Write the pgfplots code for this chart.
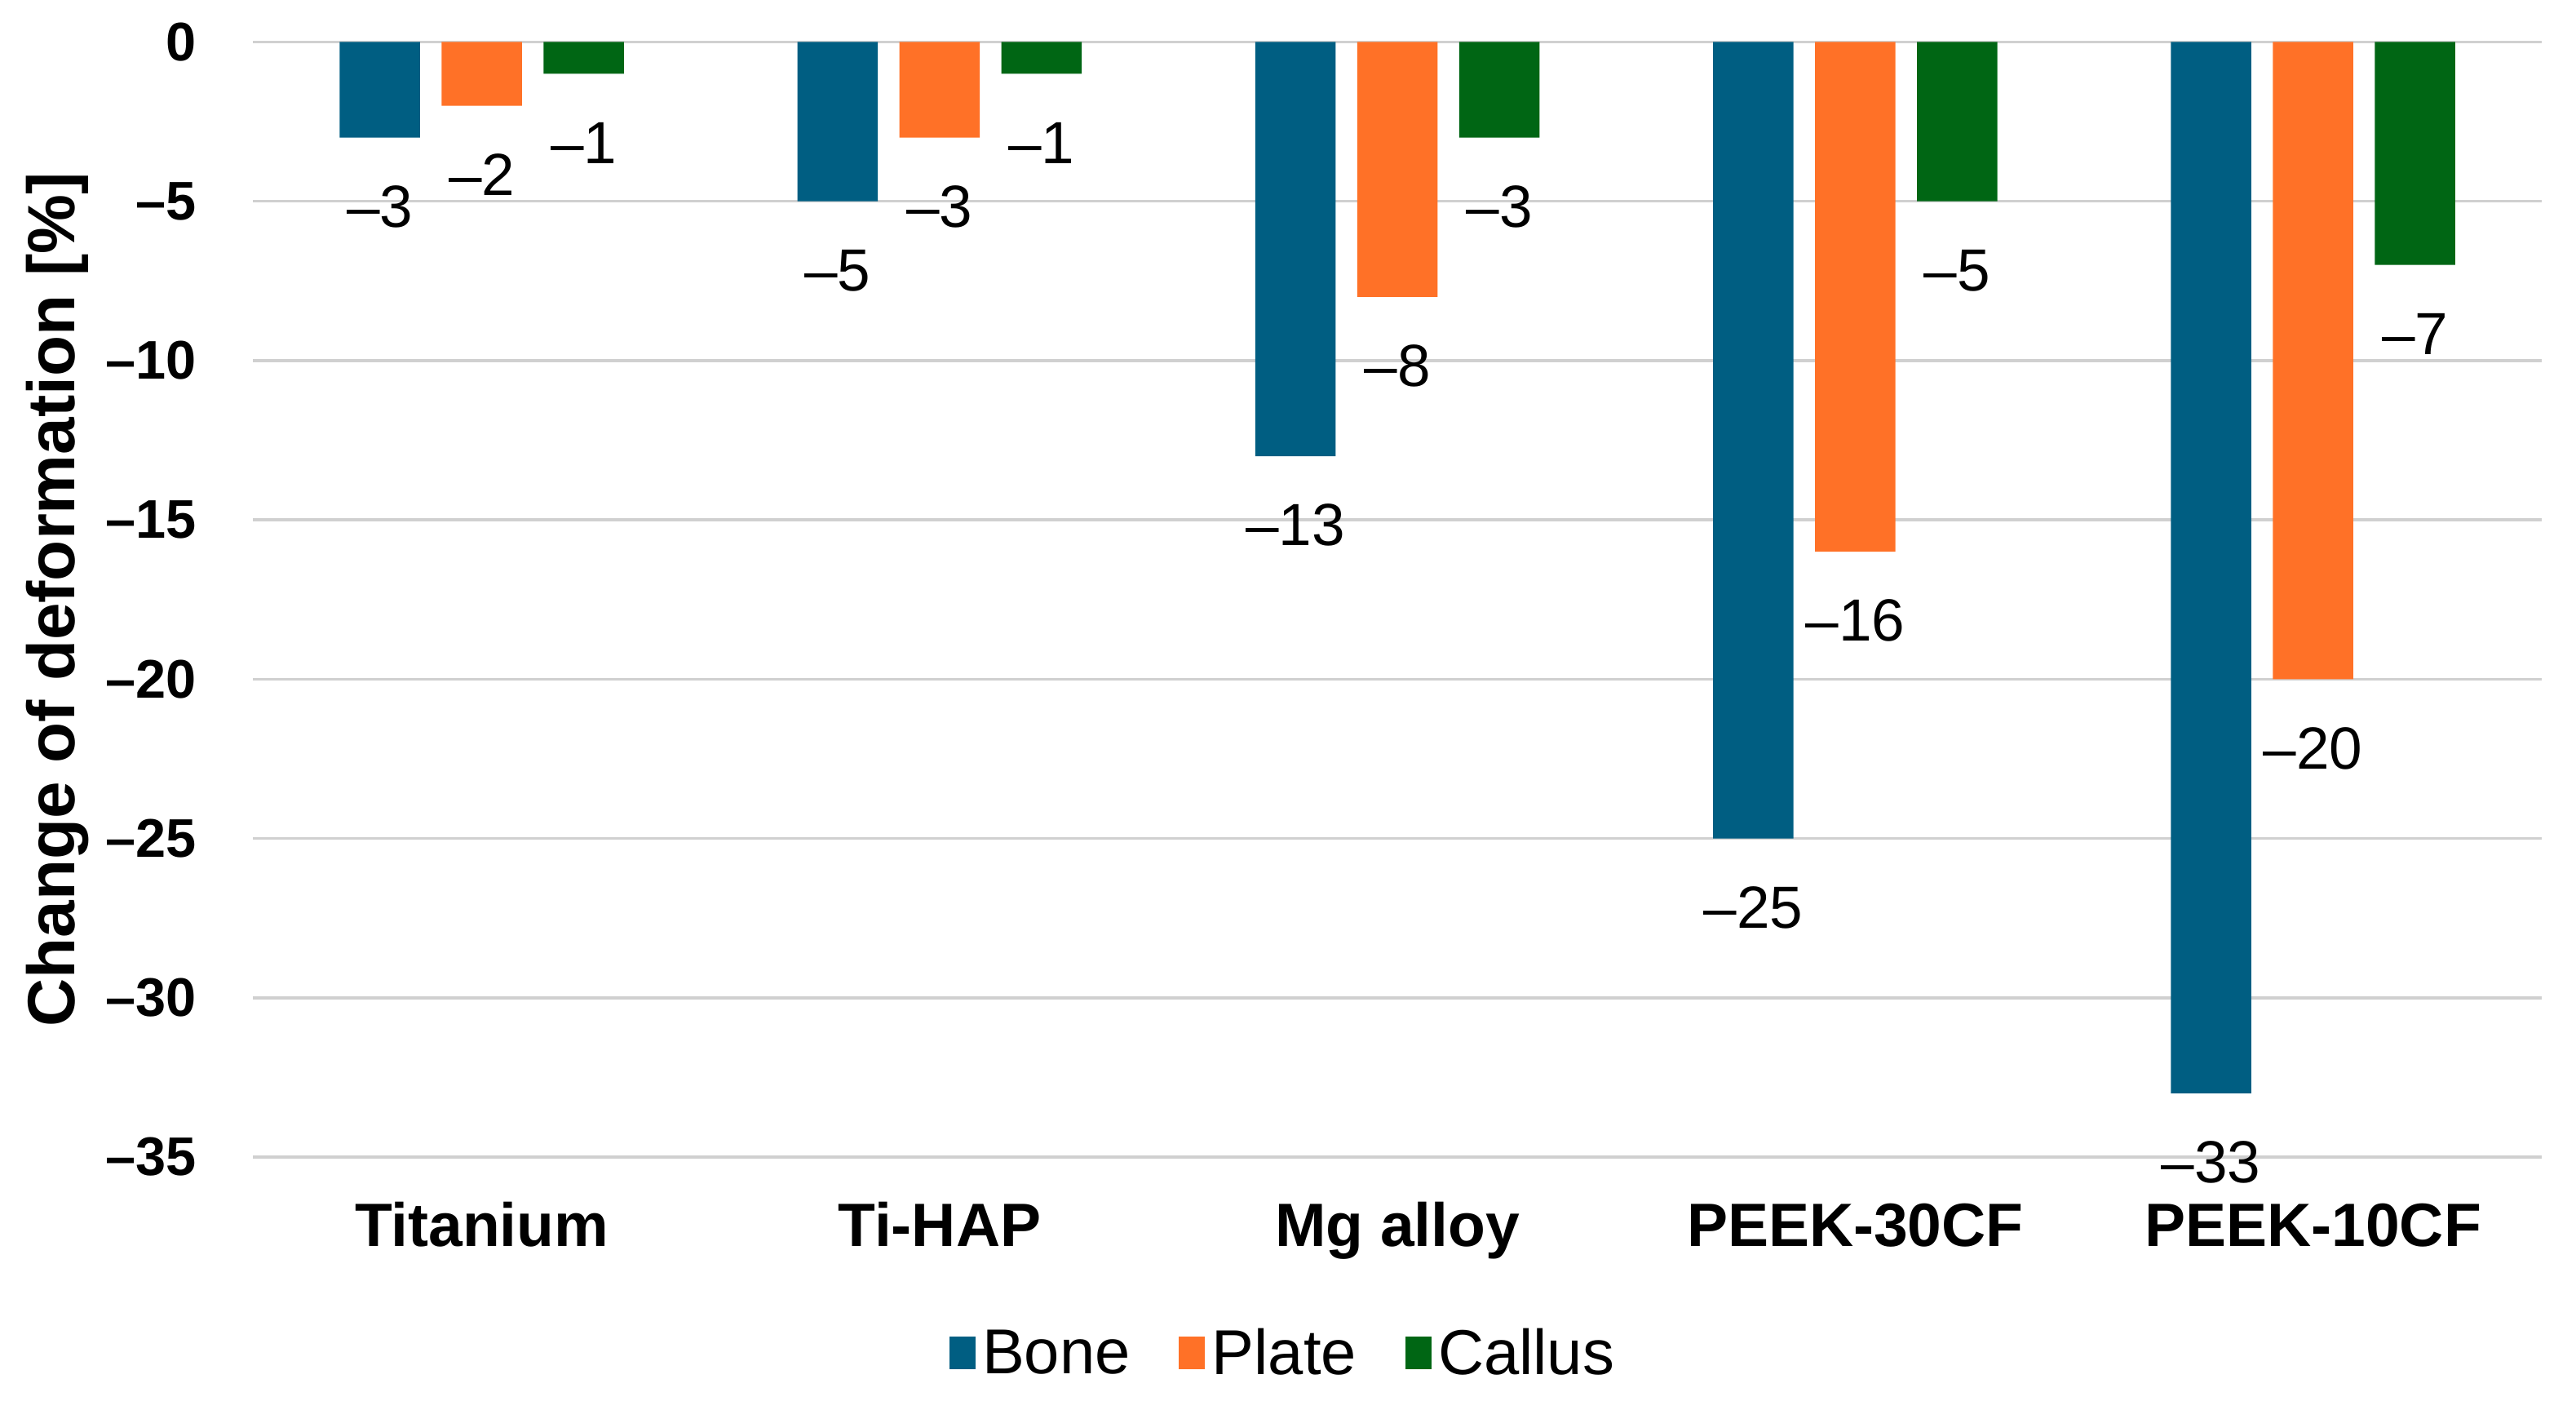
\documentclass[border=0pt]{standalone}
\usepackage{pgfplots}
\pgfplotsset{compat=1.18}
\usepackage{pgfplotstable}
\usepackage{fontspec}
\setmainfont{Liberation Sans}
\definecolor{cbone}{RGB}{0,94,130}
\definecolor{cplate}{RGB}{255,113,39}
\definecolor{ccallus}{RGB}{0,102,20}
\definecolor{cgrid}{RGB}{208,208,208}

\pgfplotstableread{
x y lab
0 -3 3
1 -5 5
2 -13 13
3 -25 25
4 -33 33
}\bone
\pgfplotstableread{
x y lab
0 -2 2
1 -3 3
2 -8 8
3 -16 16
4 -20 20
}\plate
\pgfplotstableread{
x y lab
0 -1 1
1 -1 1
2 -3 3
3 -5 5
4 -7 7
}\callus

\begin{document}
\begin{tikzpicture}
\begin{axis}[
  name=ax,
  scale only axis,
  width=404.1pt, height=196.8pt,
  xmin=-0.5, xmax=4.5,
  ymin=-35, ymax=0,
  ybar=3.8pt, bar width=14.2pt,
  clip=false,
  axis line style={draw=none},
  major tick length=0pt,
  tick style={draw=none},
  ymajorgrids,
  grid style={cgrid, line width=0.5pt},
  xtick={0,1,2,3,4},
  xticklabels={Titanium,Ti-HAP,Mg alloy,PEEK-30CF,PEEK-10CF},
  xticklabel style={font=\fontsize{10.8}{12}\selectfont\bfseries, anchor=base, yshift=-15.7pt},
  ytick={-35,-30,-25,-20,-15,-10,-5,0},
  yticklabels={\textendash35,\textendash30,\textendash25,\textendash20,\textendash15,\textendash10,\textendash5,0},
  yticklabel style={font=\fontsize{9.6}{11}\selectfont\bfseries, anchor=east, inner sep=0pt, xshift=-9.8pt},
  ylabel={Change of deformation [\%]},
  ylabel style={font=\fontsize{11.8}{13}\selectfont\bfseries, at={(axis description cs:-0.0855,0.5)}, anchor=center},
  point meta=explicit symbolic,
  nodes near coords={\textendash\pgfplotspointmeta},
  every node near coord/.append style={font=\fontsize{10.5}{12}\selectfont, text=black, anchor=center, yshift=-12.2pt},
  legend style={at={(axis description cs:0.451,-0.1785)}, anchor=center, draw=none, fill=none,
    legend columns=3, font=\fontsize{11.2}{13}\selectfont,
    /tikz/every even column/.append style={column sep=7.4pt},
    nodes={inner sep=1.2pt}},
  legend image code/.code={\fill[#1,draw=none] (0pt,-2.3pt) rectangle (4.6pt,3.5pt);},
]
\addplot[fill=cbone, draw=none] table[x=x, y=y, meta=lab] {\bone};
\addplot[fill=cplate, draw=none] table[x=x, y=y, meta=lab] {\plate};
\addplot[fill=ccallus, draw=none] table[x=x, y=y, meta=lab] {\callus};
\legend{Bone,Plate,Callus}
\end{axis}
\pgfresetboundingbox
\path (ax.south west) ++(-44.64pt,-44.5pt) rectangle ++(454.75pt,248.7pt);
\end{tikzpicture}
\end{document}
